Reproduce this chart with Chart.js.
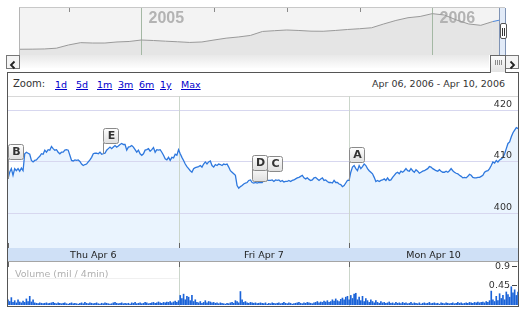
<!DOCTYPE html>
<html>
<head>
<meta charset="utf-8">
<script src="https://cdn.jsdelivr.net/npm/chart.js@4.4.1/dist/chart.umd.min.js"></script>
<style>
  body { margin: 0; width: 524px; height: 312px; overflow: hidden; background: #fff; position: relative;
         font-family: "DejaVu Sans", Verdana, sans-serif; }
  .abs { position: absolute; }
  #frame { left: 7px; top: 72px; width: 510px; height: 233px; border: 1px solid #555; }
  .zl { position: absolute; top: 79px; font-size: 9.5px; color: #0000cc; text-decoration: underline; }
</style>
</head>
<body>
  <!-- overview strip -->
  <div class="abs" style="left:19px;top:7px;width:485px;height:47px;background:#f3f3f3;border-left:1px solid #b5b5b5;border-top:1px solid #c8c8c8"></div>
  <canvas id="navChart" class="abs" width="485" height="47" style="left:20px;top:8px"></canvas>

  <!-- scrollbar -->
  <div class="abs" style="left:20px;top:55px;width:469px;height:13px;background:linear-gradient(#e8e8e8,#fdfdfd)"></div>
  <div class="abs" style="left:6px;top:55px;width:12px;height:12px;border:1px solid #777;background:#f4f4f4">
    <svg width="12" height="12"><polyline points="7.5,2.5 4,6 7.5,9.5" fill="none" stroke="#222" stroke-width="1.8"/></svg>
  </div>
  <div class="abs" style="left:505px;top:55px;width:12px;height:12px;border:1px solid #777;background:#f4f4f4">
    <svg width="12" height="12"><polyline points="4.5,2.5 8,6 4.5,9.5" fill="none" stroke="#222" stroke-width="1.8"/></svg>
  </div>

  <!-- main frame -->
  <div id="frame" class="abs"></div>
  <div class="abs" style="left:490px;top:55px;width:14px;height:17px;border:1px solid #666;border-bottom:none;background:linear-gradient(#fbfbfb,#e2e2e2)">
    <svg width="14" height="17"><g stroke="#8a8a8a" stroke-width="1"><line x1="4.5" y1="4" x2="4.5" y2="9"/><line x1="6.5" y1="4" x2="6.5" y2="9"/><line x1="8.5" y1="4" x2="8.5" y2="9"/><line x1="10.5" y1="4" x2="10.5" y2="9"/></g></svg>
  </div>
  <div class="abs" style="left:491px;top:72px;width:14px;height:1px;background:#fff"></div>

  <!-- selected range on the overview -->
  <div class="abs" style="left:499px;top:8px;width:5px;height:47px;background:#e2ebf8;border-left:1px solid #7f93b4;border-right:1px solid #7f93b4"></div>
  <div class="abs" style="left:500px;top:23px;width:5px;height:14px;background:#fff;border:1px solid #555;border-radius:2px">
    <svg width="5" height="14"><g stroke="#333"><line x1="1.5" y1="3" x2="1.5" y2="11"/><line x1="3.5" y1="3" x2="3.5" y2="11"/></g></svg>
  </div>

  <!-- zoom row -->
  <div class="abs" style="left:13px;top:78px;font-size:10px;color:#333">Zoom:</div>
  <span class="zl" style="left:55px">1d</span>
  <span class="zl" style="left:76px">5d</span>
  <span class="zl" style="left:97px">1m</span>
  <span class="zl" style="left:118px">3m</span>
  <span class="zl" style="left:139px">6m</span>
  <span class="zl" style="left:160px">1y</span>
  <span class="zl" style="left:181px">Max</span>
  <div class="abs" style="right:19px;top:78px;font-size:9.5px;color:#333">Apr 06, 2006 - Apr 10, 2006</div>

  <canvas id="priceChart" class="abs" width="510" height="166" style="left:8px;top:96px"></canvas>
  <canvas id="volumeChart" class="abs" width="510" height="44" style="left:8px;top:262px"></canvas>

<script>
// price per 4-minute interval, one array per trading day
const thuPrices = [
  406.6, 407.9, 408.6, 407.3, 408.6, 408.2, 408.6, 408.1, 408.7, 408.2,
  411.5, 411.8, 411.6, 411.4, 410.2, 409.9, 410.2, 410.3, 410.7, 411.0,
  411.5, 411.4, 412.2, 411.8, 412.3, 412.2, 412.9, 412.5, 412.2, 412.3,
  411.8, 411.5, 411.8, 411.8, 412.2, 412.3, 412.2, 411.2, 410.2, 410.1,
  410.3, 410.2, 410.3, 410.0, 409.5, 409.2, 409.4, 409.5, 409.9, 410.3,
  410.8, 411.5, 411.6, 411.6, 411.5, 411.8, 411.4, 411.5, 411.6, 412.2,
  412.5, 412.8, 412.5, 412.8, 413.1, 412.8, 413.0, 413.3, 413.5, 413.3,
  413.3, 412.2, 412.8, 412.9, 413.1, 412.8, 412.3, 411.8, 412.2, 411.5,
  411.2, 411.5, 412.2, 412.3, 412.5, 412.0, 412.3, 412.7, 411.8, 412.3,
  412.2, 412.3, 411.8, 411.2, 410.5, 410.3, 410.8, 410.2, 410.8, 410.7,
  411.4, 411.2
];
const friPrices = [
  412.3, 411.5, 410.8, 410.2, 409.5, 409.0, 408.6, 408.2, 407.9, 408.6,
  408.8, 408.9, 409.0, 409.2, 408.9, 409.5, 409.9, 409.5, 409.9, 410.1,
  409.2, 408.9, 409.4, 409.2, 409.5, 409.4, 409.2, 409.5, 409.4, 409.5,
  408.9, 408.2, 407.9, 407.6, 407.3, 405.3, 404.8, 405.1, 405.3, 405.6,
  405.8, 405.9, 406.3, 406.4, 405.9, 405.8, 405.9, 405.8, 405.9, 405.9,
  405.9, 406.3, 406.6, 406.3, 406.3, 406.3, 406.4, 406.1, 406.4, 406.3,
  406.4, 406.1, 406.3, 406.0, 406.1, 406.1, 406.3, 406.1, 406.3, 406.4,
  406.6, 406.8, 406.9, 407.1, 407.3, 406.8, 406.6, 406.8, 406.5, 406.3,
  406.4, 406.8, 406.9, 406.6, 406.3, 406.6, 406.8, 406.3, 406.4, 406.1,
  405.9, 405.9, 405.8, 406.3, 405.9, 405.9, 405.6, 405.5, 405.1, 405.3,
  405.8, 406.3
];
const monPrices = [
  406.3, 407.9, 408.9, 409.2, 408.6, 408.2, 409.2, 408.6, 409.0, 409.5,
  409.2, 408.6, 408.2, 407.9, 407.6, 406.9, 406.1, 406.3, 406.1, 406.3,
  406.4, 406.6, 406.3, 406.8, 406.3, 406.4, 406.9, 407.3, 407.7, 407.9,
  407.6, 408.1, 407.9, 408.2, 408.6, 408.2, 408.1, 408.6, 408.2, 407.9,
  408.4, 408.1, 407.7, 407.9, 408.1, 408.2, 408.4, 408.6, 409.0, 408.9,
  408.6, 408.4, 408.2, 408.1, 408.4, 408.1, 407.9, 407.9, 408.1, 407.9,
  408.2, 408.6, 408.2, 407.9, 407.7, 407.6, 407.3, 407.1, 406.8, 406.9,
  406.8, 407.1, 407.5, 407.3, 406.9, 406.8, 406.8, 406.9, 406.9, 407.1,
  407.3, 407.9, 408.1, 408.2, 408.6, 409.2, 409.9, 409.7, 410.2, 409.9,
  410.3, 410.5, 410.8, 411.5, 412.5, 413.5, 413.8, 414.8, 415.6, 416.1,
  416.6, 416.4
];

// volume, millions of shares per 4 minutes
const thuVolume = [
  0.12, 0.08, 0.17, 0.06, 0.10, 0.05, 0.12, 0.07, 0.05, 0.09,
  0.06, 0.14, 0.08, 0.20, 0.07, 0.12, 0.05, 0.04, 0.03, 0.05,
  0.04, 0.03, 0.04, 0.05, 0.03, 0.04, 0.05, 0.06, 0.04, 0.03,
  0.05, 0.04, 0.03, 0.04, 0.05, 0.03, 0.02, 0.04, 0.05, 0.03,
  0.04, 0.03, 0.02, 0.04, 0.05, 0.03, 0.06, 0.04, 0.03, 0.05,
  0.04, 0.03, 0.04, 0.05, 0.03, 0.02, 0.04, 0.03, 0.05, 0.04,
  0.03, 0.02, 0.03, 0.05, 0.06, 0.04, 0.03, 0.04, 0.05, 0.03,
  0.04, 0.03, 0.04, 0.02, 0.05, 0.04, 0.06, 0.03, 0.04, 0.05,
  0.03, 0.04, 0.06, 0.05, 0.03, 0.04, 0.05, 0.06, 0.04, 0.05,
  0.07, 0.05, 0.04, 0.06, 0.05, 0.07, 0.06, 0.08, 0.05, 0.07,
  0.09, 0.06
];
const friVolume = [
  0.10, 0.22, 0.15, 0.25, 0.12, 0.20, 0.18, 0.10, 0.22, 0.08,
  0.12, 0.06, 0.05, 0.08, 0.04, 0.06, 0.10, 0.05, 0.08, 0.07,
  0.05, 0.06, 0.04, 0.05, 0.03, 0.05, 0.04, 0.03, 0.02, 0.04,
  0.03, 0.05, 0.06, 0.04, 0.10, 0.08, 0.05, 0.31, 0.12, 0.06,
  0.08, 0.05, 0.04, 0.06, 0.05, 0.04, 0.05, 0.03, 0.04, 0.05,
  0.04, 0.03, 0.05, 0.02, 0.04, 0.03, 0.05, 0.04, 0.03, 0.04,
  0.05, 0.03, 0.04, 0.06, 0.04, 0.03, 0.05, 0.04, 0.02, 0.03,
  0.04, 0.05, 0.06, 0.04, 0.03, 0.05, 0.04, 0.06, 0.05, 0.04,
  0.03, 0.05, 0.06, 0.08, 0.05, 0.07, 0.06, 0.09, 0.07, 0.10,
  0.06, 0.08, 0.12, 0.09, 0.14, 0.10, 0.08, 0.13, 0.16, 0.12,
  0.18, 0.20
];
const monVolume = [
  0.12, 0.22, 0.15, 0.25, 0.27, 0.12, 0.18, 0.10, 0.20, 0.08,
  0.15, 0.10, 0.06, 0.12, 0.08, 0.05, 0.10, 0.06, 0.04, 0.08,
  0.05, 0.06, 0.04, 0.05, 0.07, 0.04, 0.05, 0.03, 0.06, 0.04,
  0.05, 0.03, 0.06, 0.04, 0.05, 0.03, 0.04, 0.06, 0.03, 0.05,
  0.04, 0.03, 0.05, 0.02, 0.04, 0.05, 0.03, 0.04, 0.06, 0.03,
  0.04, 0.05, 0.03, 0.04, 0.02, 0.05, 0.04, 0.03, 0.05, 0.04,
  0.03, 0.04, 0.05, 0.03, 0.04, 0.06, 0.04, 0.05, 0.03, 0.04,
  0.05, 0.04, 0.06, 0.05, 0.04, 0.06, 0.05, 0.07, 0.05, 0.06,
  0.07, 0.05, 0.08, 0.06, 0.10, 0.32, 0.12, 0.08, 0.20, 0.10,
  0.26, 0.15, 0.22, 0.12, 0.30, 0.24, 0.18, 0.42, 0.28, 0.35,
  0.22, 0.30
];

const dayLabels = ['Thu Apr 6', 'Fri Apr 7', 'Mon Apr 10'];
const priceTicks = [400, 410, 420];
const volumeTicks = [0.9, 0.45];

// news flags: letter and the interval they point at
const flagLetters = ['B', 'E', 'D', 'C', 'A'];
const flagPoints = [0, 57, 146, 155, 204];

// overview strip, twice a month since the IPO
const navDates = [
  '2004-08-19', '2004-08-31', '2004-09-01', '2004-09-15', '2004-10-01', '2004-10-15', '2004-11-01', '2004-11-15',
  '2004-12-01', '2004-12-15', '2005-01-01', '2005-01-15', '2005-02-01', '2005-02-15', '2005-03-01', '2005-03-15',
  '2005-04-01', '2005-04-15', '2005-05-01', '2005-05-15', '2005-06-01', '2005-06-15', '2005-07-01', '2005-07-15',
  '2005-08-01', '2005-08-15', '2005-09-01', '2005-09-15', '2005-10-01', '2005-10-15', '2005-11-01', '2005-11-15',
  '2005-12-01', '2005-12-15', '2006-01-01', '2006-01-15', '2006-02-01', '2006-02-15', '2006-03-01', '2006-03-15',
  '2006-04-10'
];
const navPrices = [
  100, 101, 103, 111, 144, 168, 164, 164, 175, 180,
  195, 190, 183, 177, 170, 175, 195, 214, 226, 242,
  283, 291, 298, 293, 286, 285, 293, 303, 311, 321,
  360, 396, 424, 437, 466, 452, 401, 360, 346, 385,
  411
];
const navYears = ['2005-01-01', '2006-01-01'];
const navTicks = ['2004-10-01', '2005-01-01', '2005-04-01', '2005-07-01', '2005-10-01', '2006-01-01'];

const UI_FONT = '"DejaVu Sans", Verdana, sans-serif';

const prices = thuPrices.concat(friPrices, monPrices);
const volumes = thuVolume.concat(friVolume, monVolume);
const labels = prices.map((_, i) => i);
const dayStarts = [0, thuPrices.length, thuPrices.length + friPrices.length];
const dayEnds = [dayStarts[1], dayStarts[2], prices.length - 1];

function hLine(ctx, x1, x2, y) {
    ctx.beginPath(); ctx.moveTo(x1, y); ctx.lineTo(x2, y); ctx.stroke();
}
function vLine(ctx, x, y1, y2) {
    ctx.beginPath(); ctx.moveTo(x, y1); ctx.lineTo(x, y2); ctx.stroke();
}

function drawFlag(ctx, left, bottom, letter) {
    const w = 15, h = 15, top = bottom - h;
    const g = ctx.createLinearGradient(0, top, 0, bottom);
    g.addColorStop(0, '#ffffff');
    g.addColorStop(1, '#e0e0e0');
    ctx.beginPath();
    ctx.roundRect(left + 0.5, top + 0.5, w, h, 2);
    ctx.fillStyle = g;
    ctx.fill();
    ctx.strokeStyle = '#8a8a8a';
    ctx.stroke();
    if (letter) {
        ctx.fillStyle = '#333';
        ctx.font = 'bold 11px ' + UI_FONT;
        ctx.textAlign = 'center';
        ctx.textBaseline = 'middle';
        ctx.fillText(letter, left + w / 2 + 1, top + h / 2 + 1);
    }
}

const priceDecor = {
    id: 'priceDecor',
    beforeDatasetsDraw(chart) {
        const { ctx, chartArea: a, scales: { x, y } } = chart;
        ctx.save();
        ctx.lineWidth = 1;
        ctx.strokeStyle = '#d8d8d8';
        hLine(ctx, a.left, a.right, a.top + 0.5);
        ctx.strokeStyle = '#d7d7ef';
        priceTicks.forEach(v => hLine(ctx, a.left, a.right, Math.round(y.getPixelForValue(v)) + 0.5));
        ctx.strokeStyle = '#cbd6cb';
        dayStarts.slice(1).forEach(i => vLine(ctx, Math.round(x.getPixelForValue(i)) + 0.5, a.top, a.bottom));
        ctx.restore();
    },
    afterDatasetsDraw(chart) {
        const { ctx, chartArea: a, scales: { x, y } } = chart;
        ctx.save();
        // price labels on the right
        ctx.font = '9.5px ' + UI_FONT;
        ctx.fillStyle = '#333';
        ctx.textAlign = 'right';
        ctx.textBaseline = 'bottom';
        priceTicks.forEach(v => ctx.fillText(String(v), a.right - 6, y.getPixelForValue(v) - 1));

        // flags
        const gaps = [9, 3, 9, 9, 2];
        flagPoints.forEach((idx, k) => {
            let top = Infinity;
            for (let i = idx; i < Math.min(idx + 10, prices.length); i++) {
                top = Math.min(top, y.getPixelForValue(prices[i]));
            }
            const left = Math.round(x.getPixelForValue(idx));
            const bottom = Math.round(top - gaps[k]);
            const base = y.getPixelForValue(prices[idx]);
            ctx.strokeStyle = '#8a8a8a';
            ctx.lineWidth = 1;
            if (flagLetters[k] === 'D') {
                drawFlag(ctx, left, Math.round(base) - 1, '');
            } else {
                vLine(ctx, left + 0.5, bottom, base);
            }
            drawFlag(ctx, left, bottom, flagLetters[k]);
        });

        // date band
        ctx.fillStyle = '#cfe0f6';
        ctx.fillRect(a.left, a.bottom, a.width, 14);
        ctx.strokeStyle = '#a5a5a5';
        hLine(ctx, a.left, a.right, a.bottom + 13.5);
        ctx.strokeStyle = '#666';
        dayStarts.forEach(i => vLine(ctx, Math.round(x.getPixelForValue(i)) + 0.5, a.bottom - 5, a.bottom));
        ctx.font = '9.5px ' + UI_FONT;
        ctx.fillStyle = '#222';
        ctx.textAlign = 'center';
        ctx.textBaseline = 'middle';
        dayLabels.forEach((t, k) => {
            const cx = (x.getPixelForValue(dayStarts[k]) + x.getPixelForValue(dayEnds[k])) / 2;
            ctx.fillText(t, cx, a.bottom + 7.5);
        });
        ctx.restore();
    }
};

const volumeDecor = {
    id: 'volumeDecor',
    beforeDatasetsDraw(chart) {
        const { ctx, chartArea: a, scales: { x } } = chart;
        ctx.save();
        ctx.lineWidth = 1;
        ctx.strokeStyle = '#f0f0f0';
        hLine(ctx, a.left, x.getPixelForValue(dayStarts[1]), 16.5);
        ctx.strokeStyle = '#cbd6cb';
        dayStarts.slice(1).forEach(i => vLine(ctx, Math.round(x.getPixelForValue(i)) + 0.5, 0, chart.height));
        ctx.strokeStyle = '#666';
        dayStarts.forEach(i => vLine(ctx, Math.round(x.getPixelForValue(i)) + 0.5, 0, 5));
        ctx.font = '9.5px ' + UI_FONT;
        ctx.fillStyle = '#b0b0b0';
        ctx.textBaseline = 'middle';
        ctx.fillText('Volume (mil / 4min)', 7, 13);
        ctx.restore();
    },
    afterDatasetsDraw(chart) {
        const { ctx, chartArea: a, scales: { y } } = chart;
        ctx.save();
        ctx.font = '9.5px ' + UI_FONT;
        ctx.fillStyle = '#333';
        ctx.textAlign = 'right';
        ctx.textBaseline = 'middle';
        ctx.strokeStyle = '#444';
        volumeTicks.forEach(v => {
            const py = Math.round(y.getPixelForValue(v)) + 0.5;
            ctx.fillText(String(v), a.right - 8, py);
            hLine(ctx, a.right - 6, a.right - 1, py);
        });
        ctx.restore();
    }
};

const navDecor = {
    id: 'navDecor',
    beforeDatasetsDraw(chart) {
        const { ctx, chartArea: a, scales: { x } } = chart;
        ctx.save();
        ctx.lineWidth = 1;
        ctx.strokeStyle = '#8a8a8a';
        navTicks.forEach(d => vLine(ctx, Math.round(x.getPixelForValue(navDates.indexOf(d))) + 0.5, 0, 4));
        ctx.strokeStyle = '#a4b8a4';
        ctx.font = 'bold 16px "Liberation Sans", Arial, sans-serif';
        ctx.fillStyle = '#b3b3b3';
        ctx.textBaseline = 'top';
        navYears.forEach(d => {
            const px = Math.round(x.getPixelForValue(navDates.indexOf(d))) + 0.5;
            vLine(ctx, px, a.top, a.bottom);
            ctx.fillText(d.slice(0, 4), px + 7, 3);
        });
        ctx.restore();
    }
};

const lastNav = navPrices.length - 1;

new Chart(document.getElementById('navChart'), {
    type: 'line',
    data: {
        labels: navDates,
        datasets: [{
            data: navPrices,
            borderColor: '#999',
            borderWidth: 1,
            backgroundColor: '#e5e5e5',
            fill: 'start',
            pointRadius: 0,
            tension: 0,
            segment: { borderColor: c => (c.p1DataIndex === lastNav ? '#4a86dc' : '#999') }
        }]
    },
    options: {
        responsive: false,
        animation: false,
        events: [],
        plugins: { legend: { display: false }, tooltip: { enabled: false }, filler: { drawTime: 'beforeDatasetsDraw' } },
        scales: {
            x: { display: false, offset: false },
            y: { display: false, min: 41, max: 524 }
        }
    },
    plugins: [navDecor]
});

new Chart(document.getElementById('priceChart'), {
    type: 'line',
    data: {
        labels,
        datasets: [{
            data: prices,
            borderColor: '#2e78de',
            borderWidth: 1.3,
            backgroundColor: '#eaf4fe',
            fill: 'start',
            pointRadius: 0,
            tension: 0
        }]
    },
    options: {
        responsive: false,
        animation: false,
        events: [],
        layout: { padding: { bottom: 14 } },
        plugins: { legend: { display: false }, tooltip: { enabled: false }, filler: { drawTime: 'beforeDatasetsDraw' } },
        scales: {
            x: { display: false, offset: false },
            y: { display: false, min: 393.14, max: 422.75 }
        }
    },
    plugins: [priceDecor]
});

new Chart(document.getElementById('volumeChart'), {
    type: 'bar',
    data: {
        labels,
        datasets: [{
            data: volumes,
            backgroundColor: '#1b63d8',
            barThickness: 1,
            categoryPercentage: 1,
            barPercentage: 1
        }]
    },
    options: {
        responsive: false,
        animation: false,
        events: [],
        layout: { padding: { bottom: 1 } },
        plugins: { legend: { display: false }, tooltip: { enabled: false } },
        scales: {
            x: { display: false, offset: false },
            y: { display: false, min: 0, max: 0.99 }
        }
    },
    plugins: [volumeDecor]
});
</script>
</body>
</html>
